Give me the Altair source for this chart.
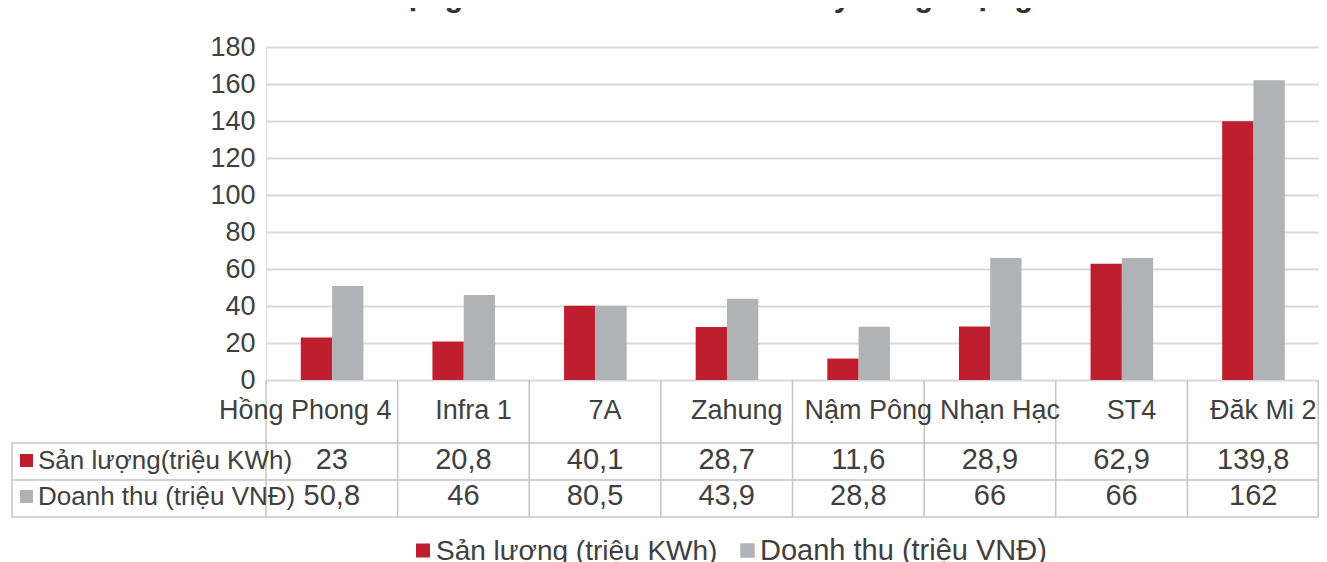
import altair as alt
import pandas as pd

# ---------------- data ----------------
nha_may = ["Hồng Phong 4", "Infra 1", "7A", "Zahung", "Nậm Pông", "Nhạn Hạc", "ST4", "Đăk Mi 2"]
san_luong = [23, 20.8, 40.1, 28.7, 11.6, 28.9, 62.9, 139.8]
doanh_thu = [50.8, 46, 80.5, 43.9, 28.8, 66, 66, 162]
# bar heights as drawn in the source picture (7A bar is drawn at ~40)
doanh_thu_cot = [50.8, 46, 40.2, 43.9, 28.8, 66, 66, 162]

s1_table = "Sản lượng(triệu KWh)"
s2_table = "Doanh thu (triệu VNĐ)"
s1_legend = "Sản lượng (triệu KWh)"
s2_legend = "Doanh thu (triệu VNĐ)"
title_text = "Sản lượng & Doanh thu các nhà máy năng lượng"
y_ticks = [0, 20, 40, 60, 80, 100, 120, 140, 160, 180]

RED = "#BE1E2D"
GRAY = "#B1B2B6"
TXT = "#404040"
LINE = "#C4C4C4"
FONT = "Liberation Sans"

W, H = 1053, 333


def fmt(v):
    return f"{v:g}".replace(".", ",")


bars = pd.DataFrame(
    [{"cat": c, "series": s1_table, "value": v} for c, v in zip(nha_may, san_luong)]
    + [{"cat": c, "series": s2_table, "value": v} for c, v in zip(nha_may, doanh_thu_cot)]
)
table = pd.DataFrame({
    "cat": nha_may,
    "sl": [fmt(v) for v in san_luong],
    "dt": [fmt(v) for v in doanh_thu],
})
one = pd.DataFrame({"k": [0]})

xcat = alt.X("cat:N", sort=nha_may, scale=alt.Scale(paddingInner=0, paddingOuter=0), axis=None)

bar_layer = alt.Chart(bars).mark_bar().encode(
    x=xcat,
    xOffset=alt.XOffset("series:N", sort=[s1_table, s2_table],
                        scale=alt.Scale(range=[34.8, 97.4], paddingOuter=0, paddingInner=0)),
    y=alt.Y("value:Q", scale=alt.Scale(domain=[0, 180], nice=False),
            axis=alt.Axis(values=y_ticks, grid=True, gridColor="#D9D9D9", gridWidth=2,
                          domain=False, ticks=False, labelFontSize=27, labelColor=TXT,
                          labelPadding=11, labelFont=FONT, title=None)),
    color=alt.Color("series:N", scale=alt.Scale(domain=[s1_table, s2_table], range=[RED, GRAY]),
                    legend=None),
)

# table grid
vlines = alt.Chart(table).mark_rule(color=LINE, strokeWidth=1.5).encode(
    x=alt.X("cat:N", sort=nha_may, bandPosition=0), y=alt.value(H), y2=alt.value(470)
)
vline_right = alt.Chart(one).mark_rule(color=LINE, strokeWidth=1.5).encode(
    x=alt.value(W - 0.75), y=alt.value(H), y2=alt.value(470)
)
vline_left = alt.Chart(one).mark_rule(color=LINE, strokeWidth=1.5).encode(
    x=alt.value(-254), y=alt.value(396), y2=alt.value(470)
)
hlines = [
    alt.Chart(one).mark_rule(color=LINE, strokeWidth=1.5).encode(
        x=alt.value(-254), x2=alt.value(W), y=alt.value(yy))
    for yy in (396, 433, 470)
]

first_label = alt.Chart(table).transform_filter(
    alt.datum.cat == nha_may[0]
).mark_text(fontSize=27, color=TXT, font=FONT, baseline="alphabetic", align="right", dx=-6).encode(
    x=alt.X("cat:N", sort=nha_may, bandPosition=1), y=alt.value(372), text="cat:N"
)
other_labels = alt.Chart(table).transform_filter(
    alt.datum.cat != nha_may[0]
).mark_text(fontSize=27, color=TXT, font=FONT, baseline="alphabetic", dx=10).encode(
    x=alt.X("cat:N", sort=nha_may), y=alt.value(372), text="cat:N"
)
row1 = alt.Chart(table).mark_text(fontSize=29, color=TXT, font=FONT, baseline="alphabetic").encode(
    x=alt.X("cat:N", sort=nha_may), y=alt.value(422), text="sl:N"
)
row2 = alt.Chart(table).mark_text(fontSize=29, color=TXT, font=FONT, baseline="alphabetic").encode(
    x=alt.X("cat:N", sort=nha_may), y=alt.value(458), text="dt:N"
)

hdr_sq1 = alt.Chart(one).mark_square(size=169, color=RED, opacity=1).encode(
    x=alt.value(-239.5), y=alt.value(413.5))
hdr_sq2 = alt.Chart(one).mark_square(size=169, color=GRAY, opacity=1).encode(
    x=alt.value(-239.5), y=alt.value(449.5))
hdr_t1 = alt.Chart(one).mark_text(fontSize=26, color=TXT, font=FONT, align="left", baseline="alphabetic").encode(
    x=alt.value(-228), y=alt.value(422), text=alt.value(s1_table))
hdr_t2 = alt.Chart(one).mark_text(fontSize=26, color=TXT, font=FONT, align="left", baseline="alphabetic").encode(
    x=alt.value(-228), y=alt.value(458), text=alt.value(s2_table))

# bottom legend
leg_sq1 = alt.Chart(one).mark_square(size=196, color=RED, opacity=1).encode(
    x=alt.value(157), y=alt.value(503.5))
leg_sq2 = alt.Chart(one).mark_square(size=210, color=GRAY, opacity=1).encode(
    x=alt.value(481.5), y=alt.value(503.5))
leg_t1 = alt.Chart(one).mark_text(fontSize=28, color=TXT, font=FONT, align="left", baseline="alphabetic").encode(
    x=alt.value(170), y=alt.value(513), text=alt.value(s1_legend))
leg_t2 = alt.Chart(one).mark_text(fontSize=29, color=TXT, font=FONT, align="left", baseline="alphabetic").encode(
    x=alt.value(494), y=alt.value(513), text=alt.value(s2_legend))

title = alt.Chart(one).mark_text(fontSize=31, fontWeight="bold", color="#333333", font=FONT,
                                 baseline="alphabetic").encode(
    x=alt.value(404), y=alt.value(-41), text=alt.value(title_text))

chart = alt.layer(
    bar_layer, vlines, vline_right, vline_left, *hlines,
    first_label, other_labels, row1, row2, hdr_sq1, hdr_sq2, hdr_t1, hdr_t2,
    leg_sq1, leg_sq2, leg_t1, leg_t2, title,
).properties(
    width=W, height=H,
    autosize=alt.AutoSizeParams(type="none"),
    padding={"left": 258, "top": 39, "right": 0, "bottom": 182},
).configure_view(stroke=None).configure(font=FONT)

chart.save("out.html", embed_options={"renderer": "svg", "actions": False})
